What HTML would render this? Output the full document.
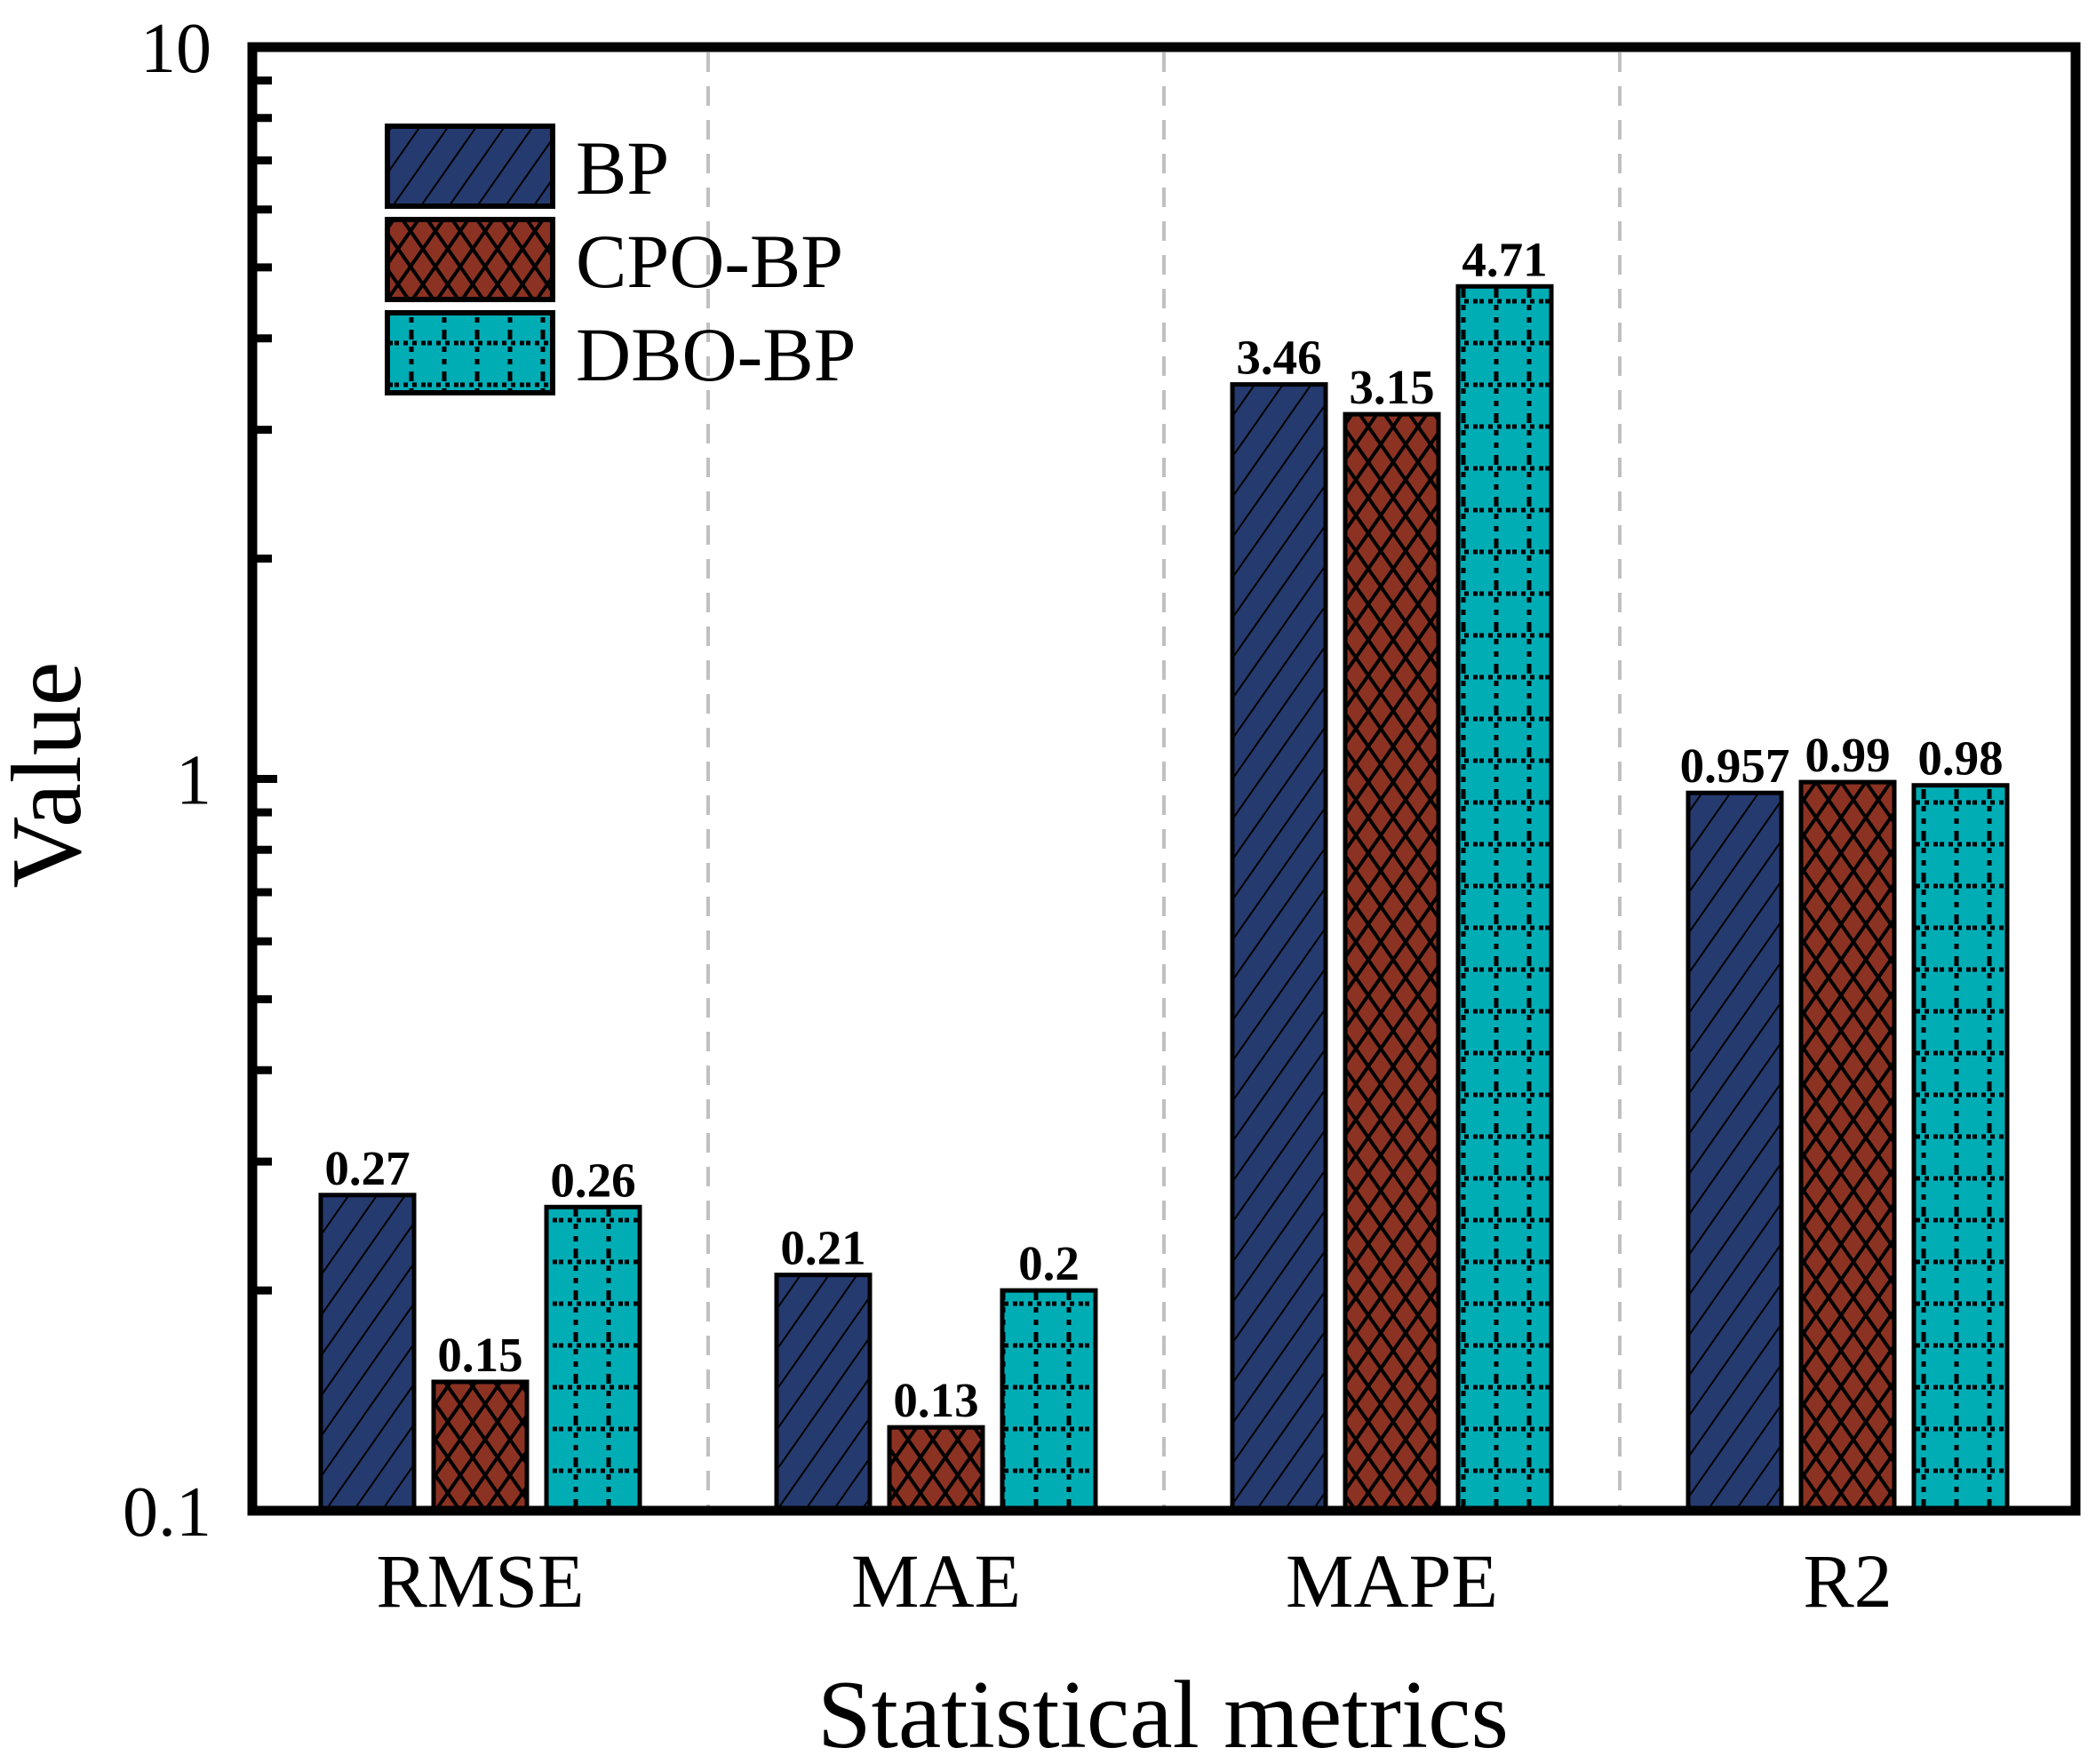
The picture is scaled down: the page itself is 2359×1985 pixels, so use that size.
<!DOCTYPE html>
<html><head><meta charset="utf-8"><style>
html,body{margin:0;padding:0;background:#fff;}
svg{display:block;font-family:"Liberation Serif",serif;}
</style></head><body>
<svg id="chart" width="2359" height="1985" viewBox="0 0 2359 1985" xmlns="http://www.w3.org/2000/svg">
<defs>
<pattern id="pBP" patternUnits="userSpaceOnUse" width="26" height="26" patternTransform="rotate(35)">
<rect width="26" height="26" fill="#253a6e"/><line x1="0" y1="0" x2="0" y2="26" stroke="#000" stroke-width="4"/></pattern>
<pattern id="pCPO" patternUnits="userSpaceOnUse" width="28" height="40">
<rect width="28" height="40" fill="#8b3222"/>
<path d="M0,0 L28,40 M28,0 L0,40 M-14,20 L0,40 M14,-20 L42,20 M14,-20 L-14,20 M42,20 L14,60" stroke="#000" stroke-width="4" fill="none"/></pattern>
<pattern id="pDBO" patternUnits="userSpaceOnUse" width="37" height="47">
<rect width="37" height="47" fill="#00adb5"/>
<line x1="0" y1="10" x2="37" y2="10" stroke="#000" stroke-width="5" stroke-dasharray="5,5"/>
<line x1="19" y1="0" x2="19" y2="47" stroke="#000" stroke-width="5" stroke-dasharray="6,8"/></pattern>
</defs>
<g id="grid"></g><g id="bars"></g><g id="axes"></g>
<g id="legend"></g>
<text x="0" y="0" transform="translate(90,872) rotate(-90)" font-size="112" text-anchor="middle">Value</text>
<text x="1309" y="1966" font-size="109" text-anchor="middle">Statistical metrics</text>
</svg>
<script>
const categories=["RMSE","MAE","MAPE","R2"];
const seriesNames=["BP","CPO-BP","DBO-BP"];
const bpValues=[0.27,0.21,3.46,0.957];
const cpoValues=[0.15,0.13,3.15,0.99];
const dboValues=[0.26,0.2,4.71,0.98];
const valueLabels=[["0.27","0.21","3.46","0.957"],["0.15","0.13","3.15","0.99"],["0.26","0.2","4.71","0.98"]];
const yTicks=[0.1,1,10];
const yTickLabels=["0.1","1","10"];

const NS="http://www.w3.org/2000/svg";
const L=284,R=2336,T=53,B=1700;
const yMin=0.1,yMax=10;
function y(v){return B-(Math.log10(v)-Math.log10(yMin))/(Math.log10(yMax)-Math.log10(yMin))*(B-T);}
const groupW=(R-L)/categories.length;
function xc(i){return L+groupW*(i+0.5);}
function mk(tag,attrs,parent){const e=document.createElementNS(NS,tag);for(const k in attrs)e.setAttribute(k,attrs[k]);parent.appendChild(e);return e;}
const grid=document.getElementById('grid'),bars=document.getElementById('bars'),axes=document.getElementById('axes'),legend=document.getElementById('legend');
for(let i=1;i<categories.length;i++){
  const gx=L+groupW*i;
  const g=mk('line',{x1:gx,x2:gx,y1:T+6,y2:B,stroke:'#c0c0c0','stroke-width':4,'stroke-dasharray':'22,16'},grid);
  
  
}
const series=[bpValues,cpoValues,dboValues];
const fills=['url(#pBP)','url(#pCPO)','url(#pDBO)'];
const barW=105,pitch=127;
series.forEach((vals,s)=>{
  vals.forEach((v,i)=>{
    const cx=xc(i)+(s-1)*pitch;
    const r=mk('rect',{x:cx-barW/2,y:y(v),width:barW,height:B-y(v),fill:fills[s],stroke:'#000','stroke-width':5},bars);
    
    
    const t=mk('text',{x:cx,y:y(v)-12,'font-size':55,'font-weight':'bold','text-anchor':'middle'},bars);
    t.textContent=valueLabels[s][i];
    
    
  });
});
const f=mk('rect',{x:L,y:T,width:R-L,height:B-T,fill:'none',stroke:'#000','stroke-width':11},axes);


for(let d=-1;d<1;d++){
  for(let m=2;m<=9;m++){
    const v=m*Math.pow(10,d);
    const tk=mk('line',{x1:L,x2:L+22,y1:y(v),y2:y(v),stroke:'#000','stroke-width':9},axes);
    
    
  }
}
yTicks.forEach((v,i)=>{
  const tk=mk('line',{x1:L,x2:L+28,y1:y(v),y2:y(v),stroke:'#000','stroke-width':9},axes);
  
  
  const t=mk('text',{x:238,y:y(v)+28,'font-size':80,'text-anchor':'end'},axes);
  t.textContent=yTickLabels[i];
  
  
});
categories.forEach((c,i)=>{
  const t=mk('text',{x:xc(i),y:1808,'font-size':86,'text-anchor':'middle'},axes);
  t.textContent=c;
  
  
});
seriesNames.forEach((n,s)=>{
  const ly=142+s*105;
  const r=mk('rect',{x:436,y:ly,width:186,height:90,fill:fills[s],stroke:'#000','stroke-width':6},legend);
  
  
  const t=mk('text',{x:648,y:ly+76,'font-size':86},legend);
  t.textContent=n;
  
  
});
</script>
</body></html>
